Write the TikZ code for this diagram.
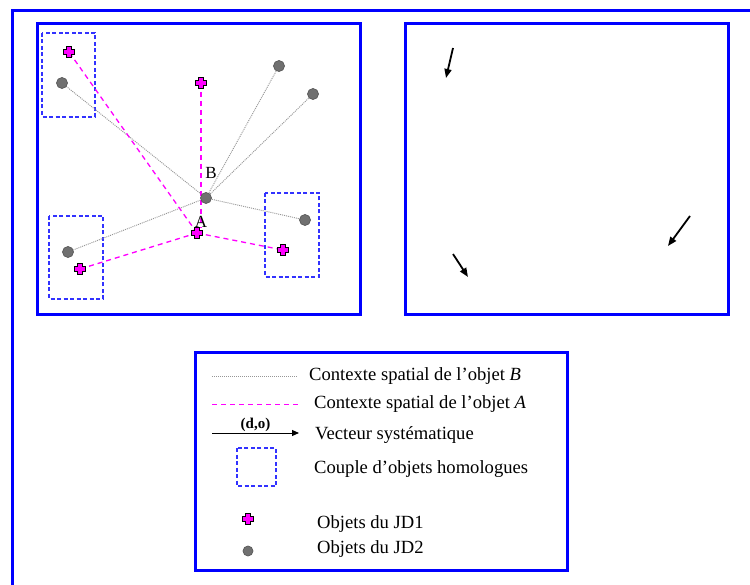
\documentclass[tikz,border=0pt]{standalone}
\usepackage{fontspec}
\newfontfamily\tnr{Liberation Serif}
\usetikzlibrary{arrows.meta}
\definecolor{frameblue}{RGB}{0,0,255}
\definecolor{boxblue}{RGB}{50,50,255}
\definecolor{dotgray}{RGB}{112,112,112}
\definecolor{linegray}{RGB}{150,150,150}
\definecolor{mag}{RGB}{255,0,255}
\tikzset{
  frame/.style={draw=frameblue, line width=3pt},
  pairbox/.style={draw=boxblue, line width=1.5pt, dash pattern=on 4pt off 2.5pt},
  ctxB/.style={draw=linegray, line width=0.9pt, dash pattern=on 1pt off 1pt},
  ctxA/.style={draw=mag, line width=1.3pt, dash pattern=on 5pt off 4pt},
  vec/.style={draw=black, line width=1.8pt, -{Triangle[length=9pt,width=7pt]}},
  gdot/.style={circle, fill=dotgray, draw=black!65, line width=0.7pt, inner sep=0pt, minimum size=11pt},
  pnode/.style={inner sep=0pt, minimum size=10pt},
  lbl/.style={font=\tnr\fontsize{18.6}{20}\selectfont, anchor=base west, inner sep=0pt, text=black},
  ptlbl/.style={font=\tnr\fontsize{17}{19}\selectfont, inner sep=0pt, text=black},
  plusmk/.pic={\filldraw[fill=mag, draw=black, line width=0.7pt]
    (-2.3,-5.2) -- (2.3,-5.2) -- (2.3,-2.3) -- (5.2,-2.3) -- (5.2,2.3) -- (2.3,2.3)
    -- (2.3,5.2) -- (-2.3,5.2) -- (-2.3,2.3) -- (-5.2,2.3) -- (-5.2,-2.3) -- (-2.3,-2.3) -- cycle;}
}
\begin{document}
\begin{tikzpicture}[x=1pt,y=-1pt]
\useasboundingbox (0,0) rectangle (750,585);
\fill[white] (0,0) rectangle (750,585);
% outer frame (only top and left visible)
\draw[frame] (749.9,11) -- (12,11) -- (12,584.9);
% panels
\draw[frame] (37,24) rectangle (360,315);
\draw[frame] (405,24) rectangle (728,315);
% pair boxes
\draw[pairbox] (42,33) rectangle (95,117);
\draw[pairbox] (49,216) rectangle (103,299);
\draw[pairbox] (265,193) rectangle (319,277);
% positions
\coordinate (B) at (206,198);
\coordinate (A) at (197,233);
\coordinate (g1) at (62,83);
\coordinate (g2) at (279,66);
\coordinate (g3) at (313,94);
\coordinate (g4) at (305,220);
\coordinate (g5) at (68,252);
\coordinate (p1) at (69,52);
\coordinate (p2) at (201,83);
\coordinate (p3) at (80,269);
\coordinate (p4) at (283,250);
\coordinate (pe) at (201,228);
% context of B
\foreach \g in {g1,g2,g3,g4,g5} \draw[ctxB] (B) -- (\g);
% context of A
\draw[ctxA] (A) -- (p1);
\draw[ctxA] (p2) -- (pe);
\draw[ctxA] (A) -- (p3);
\draw[ctxA] (A) -- (p4);
% labels
\node[ptlbl] (labB) at (211,173) {B};
\node[ptlbl] (labA) at (201,222) {A};
% markers
\foreach \g in {g1,g2,g3,g4,g5} \node[gdot] (n\g) at (\g) {};
\node[gdot] (nB) at (B) {};
\foreach \p in {p1,p2,p3,p4,A} {\node[pnode] (n\p) at (\p) {}; \pic at (\p) {plusmk};}
% right panel vectors
\coordinate (v1s) at (453,48); \coordinate (v1e) at (446,78);
\coordinate (v2s) at (690,216); \coordinate (v2e) at (668,246);
\coordinate (v3s) at (453,254); \coordinate (v3e) at (468,277);
\draw[vec] (v1s) -- (v1e);
\draw[vec] (v2s) -- (v2e);
\draw[vec] (v3s) -- (v3e);
% legend
\draw[frame] (195,353) rectangle (567,570);
\coordinate (l1a) at (212,376); \coordinate (l1b) at (298,376);
\draw[ctxB] (l1a) -- (l1b);
\node[lbl] (t1) at (309,381) {Contexte spatial de l’objet \textit{B}};
\coordinate (l2a) at (212,404); \coordinate (l2b) at (300,404);
\draw[ctxA, line width=1pt] (l2a) -- (l2b);
\node[lbl] (t2) at (314,409) {Contexte spatial de l’objet \textit{A}};
\coordinate (l3a) at (212,433); \coordinate (l3b) at (299,433);
\draw[draw=black, line width=1pt, -{Triangle[length=7pt,width=6pt]}] (l3a) -- (l3b)
  node[midway, above=1pt, font=\tnr\bfseries\fontsize{15}{16}\selectfont, inner sep=0pt] (dolbl) {(d,o)};
\node[lbl] (t3) at (315,439) {Vecteur systématique};
\draw[pairbox] (237,448) rectangle (276,486);
\node[lbl] (t4) at (314,473) {Couple d’objets homologues};
\coordinate (lp) at (248,519);
\node[pnode] (nlp) at (lp) {};
\pic at (lp) {plusmk};
\node[lbl] (t5) at (317,528) {Objets du JD1};
\node[gdot, minimum size=10pt] (nlg) at (248,551) {};
\node[lbl] (t6) at (317,553) {Objets du JD2};
\end{tikzpicture}
\end{document}
